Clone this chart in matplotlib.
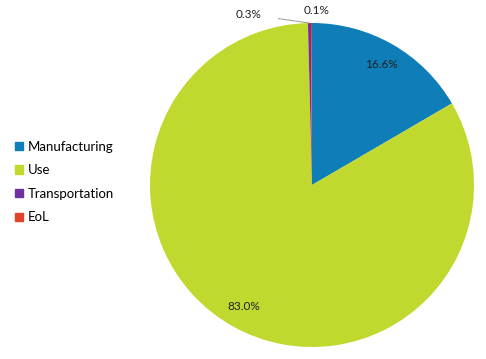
import numpy as np
import matplotlib
matplotlib.use("Agg")
import matplotlib.pyplot as plt

categories = ["Manufacturing", "Use", "Transportation", "EoL"]
values = [16.6, 83.0, 0.3, 0.1]
labels = ["16.6%", "83.0%", "0.3%", "0.1%"]
colors = ["#0F7DB8", "#C1D82F", "#7030A0", "#E0452B"]

plt.rcParams['font.family'] = ['Lato', 'DejaVu Sans']

fig = plt.figure(figsize=(4.86, 3.59), dpi=100)
W, H = 486, 359
cx, cy, r = 312, 185, 162
ax = fig.add_axes([(cx - r) / W, 1 - (cy + r) / H, 2 * r / W, 2 * r / H])
wedges, _ = ax.pie(values, colors=colors, startangle=90, counterclock=False,
                   radius=1.0, wedgeprops=dict(linewidth=0))
ax.set_xlim(-1, 1)
ax.set_ylim(-1, 1)
ax.set_aspect('equal')
ax.axis('off')

# inside labels
for w, lab in zip(wedges[:2], labels[:2]):
    ang = np.deg2rad((w.theta1 + w.theta2) / 2)
    ax.text(0.86 * np.cos(ang), 0.86 * np.sin(ang), lab, ha='center', va='center',
            fontsize=8.5, color='#222222')

# small slices outside
w = wedges[2]
ang = np.deg2rad((w.theta1 + w.theta2) / 2)
ax.annotate(labels[2], xy=(np.cos(ang), np.sin(ang)), xytext=(-0.39, 1.053),
            ha='center', va='center', fontsize=8.5, color='#222222',
            annotation_clip=False,
            arrowprops=dict(arrowstyle='-', color='#999999', lw=0.7,
                            shrinkA=10, shrinkB=0))
ax.text(0.03, 1.075, labels[3], ha='center', va='center', fontsize=8.5,
        color='#222222', clip_on=False)

# legend
handles = [plt.Rectangle((0, 0), 1, 1, color=c) for c in colors]
fig.legend(handles, categories, loc='center left', bbox_to_anchor=(0.007, 0.493),
           frameon=False, fontsize=9.5, handlelength=0.6, handleheight=0.6,
           handletextpad=0.35, labelspacing=0.88)

fig.savefig("out.png", dpi=100)
